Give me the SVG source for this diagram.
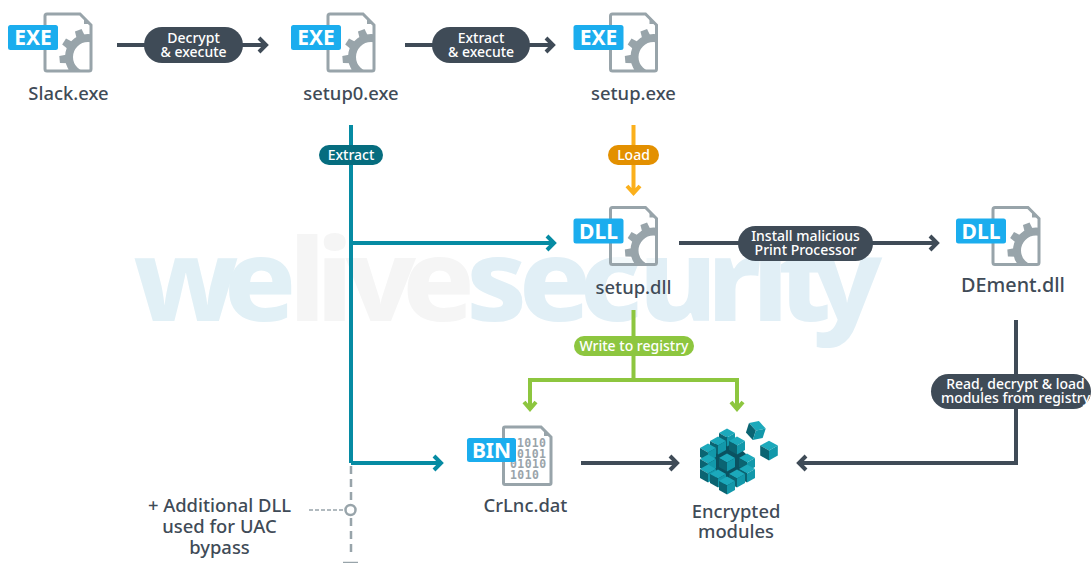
<svg xmlns="http://www.w3.org/2000/svg" xmlns:xlink="http://www.w3.org/1999/xlink" width="1091" height="563" viewBox="0 0 1091 563">
<style>
text{font-family:"Noto Sans","Open Sans","Liberation Sans",sans-serif}
.lbl{font-size:18.4px;font-weight:500;fill:#3f4b57;text-anchor:middle}
.pill{font-size:14px;font-weight:500;fill:#fff;text-anchor:middle}
.badge{font-size:21px;font-weight:700;fill:#fff;text-anchor:middle}
.c{fill:none;stroke-width:4}
.dark{stroke:#3f4b57}.teal{stroke:#068ba3}.amber{stroke:#fbb01c}.green{stroke:#8dc63f}
.wm{font-family:"Inter","Open Sans",sans-serif;font-size:114px;font-weight:800}
.bin{font-family:"DejaVu Sans Mono","Liberation Mono",monospace;font-size:11.5px;font-weight:700;fill:#9aa4aa;letter-spacing:.4px}
.bd{fill:#1badee}
</style>
<defs>
<clipPath id="fc"><rect x="45" y="14" width="46" height="57" rx="2"/></clipPath>
<g id="file">
<path d="M47 14H80L91 25V69a2 2 0 0 1-2 2H47a2 2 0 0 1-2-2V16a2 2 0 0 1 2-2Z" fill="#fff" fill-opacity=".6" stroke="#98a4aa" stroke-width="3"/>
<path d="M84 18v6h6Z" fill="#98a4aa"/>
<g clip-path="url(#fc)" fill="#98a4aa"><circle cx="88" cy="57" r="19" fill="none" stroke="#98a4aa" stroke-width="8"/>
<g><path d="M83.500 38 84.500 28.500H91.500L92.500 38Z" transform="rotate(-20 88 57)"/><path d="M83.500 38 84.500 28.500H91.500L92.500 38Z" transform="rotate(-57 88 57)"/><path d="M83.500 38 84.500 28.500H91.500L92.500 38Z" transform="rotate(-95 88 57)"/><path d="M83.500 38 84.500 28.500H91.500L92.500 38Z" transform="rotate(-133 88 57)"/><path d="M83.500 38 84.500 28.500H91.500L92.500 38Z" transform="rotate(-171 88 57)"/><path d="M83.500 38 84.500 28.500H91.500L92.500 38Z" transform="rotate(18 88 57)"/></g></g>
</g>
<g id="cube">
<path d="M0-8.500 8 -4 0 .5-8-4Z" fill="#1ca9bb"/><path d="M-8-4 0 .5V9.500L-8 5Z" fill="#0b6472"/><path d="M8-4 0 .5V9.500L8 5Z" fill="#1298aa"/>
</g>
</defs>
<g id="watermark" class="wm" transform="scale(1.05 1)">
<text y="321"><tspan fill="#e1f0f6" x="127 213">we</tspan><tspan fill="#f5f5f5" x="275 301 329 383">live</tspan><tspan fill="#e1eff6" x="444 494 552 608 673 716 741 773">security</tspan></text>
</g>
<g id="connectors">
<path class="c dark" d="M117 45H266M259 38l7 7-7 7"/>
<path class="c dark" d="M405 45H553M546 38l7 7-7 7"/>
<path class="c teal" d="M351 125V463M351 243H554M547 236l7 7-7 7M351 463H441M434 456l7 7-7 7"/>
<path class="c amber" d="M633.500 125V193M627 186l6.500 7 6.500-7"/>
<path class="c dark" d="M679 243H937M930 236l7 7-7 7"/>
<path class="c green" d="M633.500 310V380M530 408V380H737V408M524 402l6 7 6-7M731 402l6 7 6-7"/>
<path class="c dark" d="M1016 320V463H799M806 456l-7 7 7 7"/>
<path class="c dark" d="M581 463H677M670 456l7 7-7 7"/>
<path d="M351 466V552" fill="none" stroke="#98a4aa" stroke-width="2.500" stroke-dasharray="8 5"/>
<path d="M309 510H345" fill="none" stroke="#98a4aa" stroke-width="1.300" stroke-dasharray="4 2"/>
<circle cx="350.500" cy="510" r="5" fill="#fff" stroke="#98a4aa" stroke-width="2.500"/>
<path d="M343 562.500H358" stroke="#98a4aa" stroke-width="1.500"/>
</g>
<g id="pill-decrypt"><rect x="144" y="27" width="99" height="36" rx="18" fill="#3f4b57"/><text class="pill" x="193.500" y="43">Decrypt</text><text class="pill" x="193.500" y="57">&amp; execute</text></g>
<g id="pill-extract-exec"><rect x="432" y="27" width="98" height="36" rx="18" fill="#3f4b57"/><text class="pill" x="481" y="43">Extract</text><text class="pill" x="481" y="57">&amp; execute</text></g>
<g id="pill-extract"><rect x="319" y="145" width="64" height="20" rx="10" fill="#066d7f"/><text class="pill" x="351" y="160">Extract</text></g>
<g id="pill-load"><rect x="608" y="145" width="51" height="20" rx="10" fill="#e39000"/><text class="pill" x="633.500" y="160">Load</text></g>
<g id="pill-install"><rect x="738" y="226" width="135" height="35" rx="17.500" fill="#3f4b57"/><text class="pill" x="805.500" y="241">Install malicious</text><text class="pill" x="805.500" y="255">Print Processor</text></g>
<g id="pill-write"><rect x="574" y="336" width="120" height="20" rx="10" fill="#8dc63f"/><text class="pill" x="634" y="351">Write to registry</text></g>
<g id="pill-read"><rect x="931" y="374" width="160" height="35" rx="17.500" fill="#3f4b57"/><text class="pill" x="1015.500" y="389">Read, decrypt &amp; load</text><text class="pill" x="1015.500" y="403">modules from registry</text></g>
<g id="slack"><use xlink:href="#file"/><rect class="bd" x="8" y="25" width="50" height="25" rx="2.500"/><text class="badge" x="33" y="45">EXE</text><text class="lbl" x="68.500" y="100">Slack.exe</text></g>
<g id="setup0"><g transform="translate(283 0)"><use xlink:href="#file"/><rect class="bd" x="8" y="25" width="50" height="25" rx="2.500"/><text class="badge" x="33" y="45">EXE</text></g><text class="lbl" x="351" y="100">setup0.exe</text></g>
<g id="setupexe"><g transform="translate(565.500 0)"><use xlink:href="#file"/><rect class="bd" x="8" y="25" width="50" height="25" rx="2.500"/><text class="badge" x="33" y="45">EXE</text></g><text class="lbl" x="633.500" y="100">setup.exe</text></g>
<g id="setupdll"><g transform="translate(565.500 193.500)"><use xlink:href="#file"/><rect class="bd" x="8" y="25" width="50" height="25" rx="2.500"/><text class="badge" x="33" y="45">DLL</text></g><text class="lbl" x="633.500" y="294">setup.dll</text></g>
<g id="dement"><g transform="translate(948 193.500)"><use xlink:href="#file"/><rect class="bd" x="8" y="25" width="50" height="25" rx="2.500"/><text class="badge" x="33" y="45">DLL</text></g><text class="lbl" x="1013" y="292" style="font-size:19.8px">DEment.dll</text></g>
<g id="crlnc"><path d="M505 427H541L551 437V483a1.500 1.500 0 0 1-1.500 1.500H505a1.500 1.500 0 0 1-1.500-1.500V428.500a1.500 1.500 0 0 1 1.500-1.500Z" fill="#fff" stroke="#98a4aa" stroke-width="3"/><path d="M544 430v6h6Z" fill="#98a4aa"/>
<text class="bin" x="517" y="447">1010</text><text class="bin" x="517" y="457.500">0101</text><text class="bin" x="510" y="468">01010</text><text class="bin" x="510" y="478.500">1010</text>
<rect class="bd" x="467" y="438" width="49" height="24" rx="2.500"/><text class="badge" x="491.500" y="458">BIN</text><text class="lbl" x="525.500" y="512">CrLnc.dat</text></g>
<g id="modules">
<path d="M708 448 727 436 747 455V476L727 490 708 476Z" fill="#0a5261"/>
<use xlink:href="#cube" x="727" y="437"/><use xlink:href="#cube" x="718" y="445"/><use xlink:href="#cube" x="737" y="445"/><use xlink:href="#cube" x="708" y="452"/>
<use xlink:href="#cube" x="708" y="463"/><use xlink:href="#cube" x="747" y="462"/><use xlink:href="#cube" x="727" y="462"/>
<use xlink:href="#cube" x="708" y="473"/><use xlink:href="#cube" x="747" y="473"/><use xlink:href="#cube" x="718" y="478"/><use xlink:href="#cube" x="737" y="478"/><use xlink:href="#cube" x="727" y="485"/>
<use xlink:href="#cube" transform="translate(756 430) rotate(18) scale(1.1)"/><use xlink:href="#cube" transform="translate(769 450) scale(1.1)"/>
<text class="lbl" x="736" y="518">Encrypted</text><text class="lbl" x="736" y="538">modules</text></g>
<g id="note"><text class="lbl" x="219.500" y="512">+ Additional DLL</text><text class="lbl" x="219.500" y="533">used for UAC</text><text class="lbl" x="219.500" y="554">bypass</text></g>
</svg>
